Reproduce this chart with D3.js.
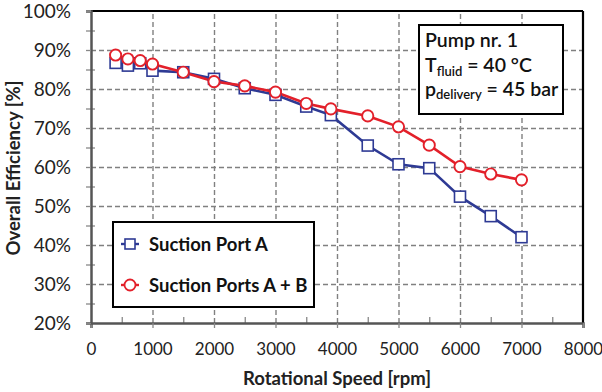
<!DOCTYPE html>
<html>
<head>
<meta charset="utf-8">
<script src="https://cdn.jsdelivr.net/npm/d3@7/dist/d3.min.js"></script>
<style>
  html, body { margin: 0; padding: 0; background: #fff; }
  svg { display: block; }
  text { font-family: Lato, "Open Sans", sans-serif; }
</style>
</head>
<body>
<svg id="chart" width="602" height="392"></svg>
<script>
// ---- data ----
const speedA = [400, 600, 800, 1000, 1500, 2000, 2500, 3000, 3500, 3900, 4500, 5000, 5500, 6000, 6500, 7000];
const effA   = [86.7, 86.0, 86.6, 84.7, 84.3, 82.6, 80.2, 78.5, 75.5, 73.3, 65.5, 60.7, 59.7, 52.4, 47.4, 42.0];
const speedAB = [400, 600, 800, 1000, 1500, 2000, 2500, 3000, 3500, 3900, 4500, 5000, 5500, 6000, 6500, 7000];
const effAB   = [88.7, 87.7, 87.3, 86.4, 84.3, 81.9, 80.8, 79.2, 76.3, 74.9, 73.1, 70.3, 65.6, 60.1, 58.2, 56.7];
const xTicks = [0, 1000, 2000, 3000, 4000, 5000, 6000, 7000, 8000];
const yTicks = [20, 30, 40, 50, 60, 70, 80, 90, 100];
const xMinor = [500, 1500, 2500, 3500, 4500, 5500, 6500, 7500];
const yMinor = [25, 35, 45, 55, 65, 75, 85, 95];
const seriesNames = ["Suction Port A", "Suction Ports A + B"];

const svg = d3.select("#chart");
const L = 91, R = 583, T = 11, B = 323;
const x = d3.scaleLinear().domain([0, 8000]).range([L, R]);
const y = d3.scaleLinear().domain([20, 100]).range([B, T]);

const blue = "#2E3A94", red = "#E3202A";

// gridlines
const gx = svg.append("g").attr("transform", `translate(0,${B})`)
  .call(d3.axisBottom(x).tickValues(xTicks.slice(1, -1)).tickSize(-(B - T)).tickFormat(""));
gx.select(".domain").remove();
gx.selectAll("line").attr("stroke", "#808080").attr("stroke-width", 1.4).attr("stroke-dasharray", "5,3");
const gy = svg.append("g").attr("transform", `translate(${L},0)`)
  .call(d3.axisLeft(y).tickValues(yTicks.slice(1, -1)).tickSize(-(R - L)).tickFormat(""));
gy.select(".domain").remove();
gy.selectAll("line").attr("stroke", "#808080").attr("stroke-width", 1.4).attr("stroke-dasharray", "5,3");

// frame
svg.append("line").attr("x1", L).attr("x2", R).attr("y1", T).attr("y2", T).attr("stroke", "#000").attr("stroke-width", 2.2);
svg.append("line").attr("x1", R).attr("x2", R).attr("y1", T).attr("y2", B).attr("stroke", "#000").attr("stroke-width", 2.2);

// minor ticks
const mx = svg.append("g").attr("transform", `translate(0,${B})`)
  .call(d3.axisBottom(x).tickValues(xMinor).tickSize(-6).tickFormat(""));
mx.select(".domain").remove();
mx.selectAll("line").attr("stroke", "#888").attr("stroke-width", 1.3);
const my = svg.append("g").attr("transform", `translate(${L + 4},0)`)
  .call(d3.axisLeft(y).tickValues(yMinor).tickSize(9).tickFormat(""));
my.select(".domain").remove();
my.selectAll("line").attr("stroke", "#888").attr("stroke-width", 1.3);

// axes
const ax = svg.append("g").attr("transform", `translate(0,${B})`)
  .call(d3.axisBottom(x).tickValues(xTicks).tickSize(5).tickPadding(15).tickFormat(d3.format("d")));
ax.select(".domain").attr("stroke", "#555").attr("stroke-width", 2.5);
ax.selectAll("line").attr("stroke", "#888").attr("stroke-width", 1.3);
ax.selectAll("text").attr("font-size", 17).attr("fill", "#222").attr("font-family", "Lato");

const ay = svg.append("g").attr("transform", `translate(${L},0)`)
  .call(d3.axisLeft(y).tickValues(yTicks).tickSize(5).tickPadding(15).tickFormat(d => d + "%"));
ay.select(".domain").attr("stroke", "#555").attr("stroke-width", 2.5);
ay.selectAll("line").attr("stroke", "#888").attr("stroke-width", 1.3);
ay.selectAll("text").attr("font-size", 19).attr("fill", "#222").attr("font-family", "Lato");

// axis titles
svg.append("text").attr("x", (L + R) / 2).attr("y", 385).attr("text-anchor", "middle")
  .attr("font-size", 18.5).attr("font-weight", "bold").attr("fill", "#222").text("Rotational Speed [rpm]");
svg.append("text").attr("transform", `translate(20,${(T + B) / 2 + 1}) rotate(-90)`).attr("text-anchor", "middle")
  .attr("font-size", 18.5).attr("font-weight", "bold").attr("fill", "#222").text("Overall Efficiency [%]");

// series
const line = d3.line().x(d => x(d[0])).y(d => y(d[1]));
const dA = speedA.map((s, i) => [s, effA[i]]);
const dAB = speedAB.map((s, i) => [s, effAB[i]]);

svg.append("path").datum(dA).attr("d", line).attr("fill", "none").attr("stroke", blue).attr("stroke-width", 2.6);
svg.append("path").datum(dAB).attr("d", line).attr("fill", "none").attr("stroke", red).attr("stroke-width", 2.6);

svg.append("g").selectAll("rect").data(dA).join("rect")
  .attr("x", d => x(d[0]) - 5.5).attr("y", d => y(d[1]) - 5.5).attr("width", 11).attr("height", 11)
  .attr("fill", "#fff").attr("stroke", blue).attr("stroke-width", 1.6);
svg.append("g").selectAll("circle").data(dAB).join("circle")
  .attr("cx", d => x(d[0])).attr("cy", d => y(d[1])).attr("r", 5.6)
  .attr("fill", "#fff").attr("stroke", red).attr("stroke-width", 1.9);

// legend
const lg = svg.append("g");
lg.append("rect").attr("x", 113).attr("y", 222).attr("width", 201).attr("height", 85)
  .attr("fill", "#fff").attr("stroke", "#000").attr("stroke-width", 2);
const rows = [{ name: seriesNames[0], c: blue, sym: "sq", yy: 244 }, { name: seriesNames[1], c: red, sym: "ci", yy: 285 }];
rows.forEach(r => {
  lg.append("line").attr("x1", 121).attr("x2", 139).attr("y1", r.yy).attr("y2", r.yy).attr("stroke", r.c).attr("stroke-width", 2.4);
  if (r.sym === "sq") {
    lg.append("rect").attr("x", 125).attr("y", r.yy - 5).attr("width", 10).attr("height", 10).attr("fill", "#fff").attr("stroke", r.c).attr("stroke-width", 1.6);
  } else {
    lg.append("circle").attr("cx", 130).attr("cy", r.yy).attr("r", 5.5).attr("fill", "#fff").attr("stroke", r.c).attr("stroke-width", 1.8);
  }
  lg.append("text").attr("x", 149).attr("y", r.yy + 6.5).attr("font-size", 18.5).attr("font-weight", "bold").attr("fill", "#111").text(r.name);
});

// annotation box
const an = svg.append("g");
an.append("rect").attr("x", 419).attr("y", 25).attr("width", 144).attr("height", 89)
  .attr("fill", "#fff").attr("stroke", "#000").attr("stroke-width", 2);
an.append("text").attr("x", 425).attr("y", 47).attr("font-size", 19.5).attr("font-weight", 600).attr("fill", "#111").text("Pump nr. 1");
const t2 = an.append("text").attr("x", 425).attr("y", 72).attr("font-size", 19.5).attr("font-weight", 600).attr("fill", "#111");
t2.append("tspan").text("T");
t2.append("tspan").attr("font-size", 13).attr("dy", 3.5).text("fluid");
t2.append("tspan").attr("dy", -3.5).text(" = 40 °C");
const t3 = an.append("text").attr("x", 425).attr("y", 96).attr("font-size", 19.5).attr("font-weight", 600).attr("fill", "#111");
t3.append("tspan").text("p");
t3.append("tspan").attr("font-size", 13).attr("dy", 3).text("delivery");
t3.append("tspan").attr("dy", -3).text(" = 45 bar");
</script>
</body>
</html>
